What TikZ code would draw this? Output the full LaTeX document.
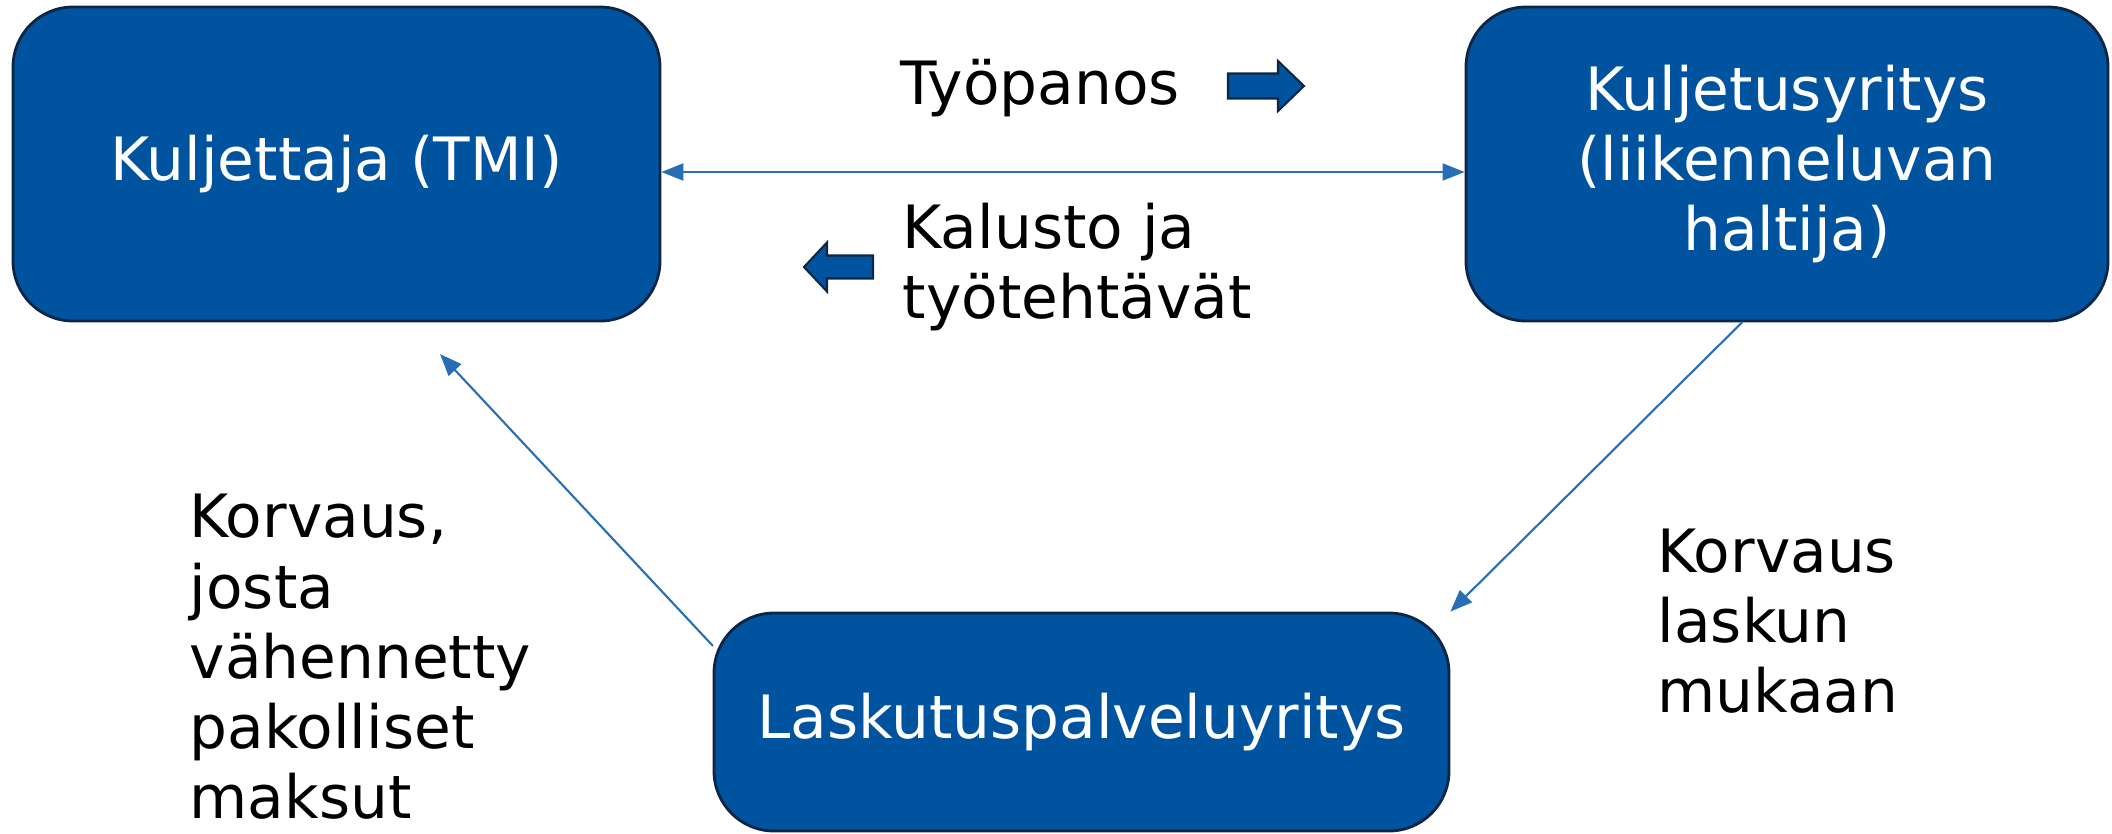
\documentclass[tikz,border=0pt]{standalone}
\usepackage{fontspec}
\setmainfont{DejaVu Sans}
\usetikzlibrary{arrows.meta,positioning}
\definecolor{boxblue}{RGB}{0,84,159}
\definecolor{boxline}{RGB}{14,38,70}
\definecolor{linkblue}{RGB}{40,110,180}
\begin{document}
\begin{tikzpicture}[line join = round, line cap = round,>={Triangle[length=0.22cm,width=0.17cm]},scale=1,
	font=\fontsize{17}{20}\selectfont,
	box/.style={draw=boxline,line width=0.8pt,fill=boxblue,text=white,rounded corners=0.6cm,align=center},
	link/.style={draw=linkblue,line width=0.6pt},
	txt/.style={inner sep=0pt,align=left,anchor=west},
	blockarrow/.style={draw=boxline,fill=boxblue,line width=0.6pt,line join=miter}]
	\useasboundingbox (0,0) rectangle (21.12,-8.33);
	\node[box,minimum width=6.47cm,minimum height=3.14cm] (kul) at (3.365,-1.64) {Kuljettaja (TMI)};
	\node[box,minimum width=6.42cm,minimum height=3.14cm] (yri) at (17.87,-1.64) {Kuljetusyritys\\(liikenneluvan\\haltija)};
	\node[box,minimum width=7.35cm,minimum height=2.18cm] (las) at (10.815,-7.22) {Laskutuspalveluyritys};
	\path
	(4.40,-3.54) coordinate(kv)
	;
	\node[inner sep=0pt] (tyo) at (10.40,-0.88) {Työpanos};
	\node[txt] (kal) at (9.02,-2.67) {Kalusto ja\\työtehtävät};
	\node[txt] (kor) at (1.89,-6.57) {Korvaus,\\josta\\vähennetty\\pakolliset\\maksut};
	\node[txt] (lak) at (16.57,-6.21) {Korvaus\\laskun\\mukaan};
	\draw[link,<->] ([yshift=-0.08cm]kul.east) -- ([yshift=-0.08cm]yri.west);
	\draw[link,->] ([xshift=-0.45cm]yri.south) -- (las.north east);
	\draw[link,->] ([yshift=-0.34cm]las.north west) -- (kv);
	% paksut nuolet
	\draw[blockarrow] (12.28,-0.735) -- (12.78,-0.735) -- (12.78,-0.61) -- (13.04,-0.86) -- (12.78,-1.11) -- (12.78,-0.985) -- (12.28,-0.985) -- cycle;
	\draw[blockarrow] (8.73,-2.555) -- (8.27,-2.555) -- (8.27,-2.425) -- (8.04,-2.67) -- (8.27,-2.915) -- (8.27,-2.785) -- (8.73,-2.785) -- cycle;
	\end{tikzpicture}
\end{document}
